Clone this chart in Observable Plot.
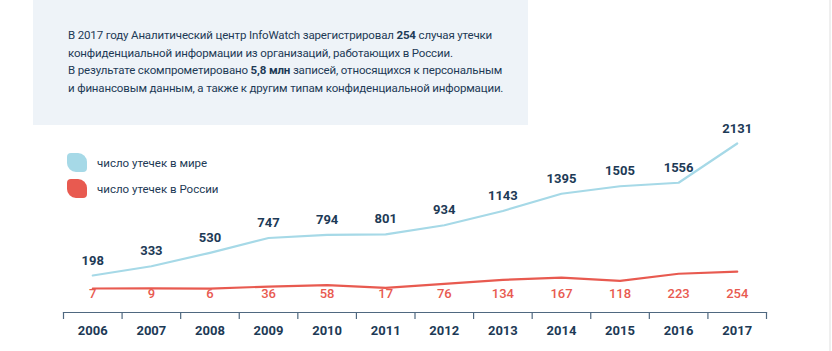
<!DOCTYPE html>
<html>
<head>
<meta charset="utf-8">
<script src="https://cdn.jsdelivr.net/npm/d3@7"></script>
<script src="https://cdn.jsdelivr.net/npm/@observablehq/plot@0.6"></script>
<style>
  html, body { margin: 0; padding: 0; background: #fff; }
  #wrap { position: relative; width: 832px; height: 351px; overflow: hidden; font-family: Roboto, "Noto Sans", sans-serif; }
  #chart { position: absolute; left: 0; top: 0; }
  #note { position: absolute; left: 33px; top: 0; width: 495px; height: 125px; background: #eef3f8;
          box-sizing: border-box; padding: 27px 0 0 35px; color: #1d3a56; font-size: 11.5px; line-height: 17.7px;
          letter-spacing: -0.15px; white-space: nowrap; }
  #note b { font-weight: 700; }
  .leg { position: absolute; left: 67px; height: 19px; display: flex; align-items: center; color: #1d3a56; font-size: 11.5px; white-space: nowrap; }
  .sw { width: 20px; height: 19px; border-radius: 4px 9px 4px 9px; margin-right: 10px; }
  #edge { position: absolute; left: 829px; top: 0; width: 2px; height: 351px; background: #efefef; }
</style>
</head>
<body>
<div id="wrap">
  <div id="chart"></div>
  <div id="note"></div>
  <div id="legend"></div>
  <div id="edge"></div>
</div>
<script>
const years = [2006, 2007, 2008, 2009, 2010, 2011, 2012, 2013, 2014, 2015, 2016, 2017];
const world = [198, 333, 530, 747, 794, 801, 934, 1143, 1395, 1505, 1556, 2131];
const russia = [7, 9, 6, 36, 58, 17, 76, 134, 167, 118, 223, 254];
const seriesNames = ["число утечек в мире", "число утечек в России"];
const seriesColors = ["#a6d9e7", "#e85a50"];
const noteLines = [
  "В 2017 году Аналитический центр InfoWatch зарегистрировал <b>254</b> случая утечки",
  "конфиденциальной информации из организаций, работающих в России.",
  "В результате скомпрометировано <b>5,8 млн</b> записей, относящихся к персональным",
  "и финансовым данным, а также к другим типам конфиденциальной информации."
];

const navy = "#1d3a56";
const axisColor = "#4f6880";

const rows = years.map((year, i) => ({year, world: world[i], russia: russia[i]}));
const bounds = [...years.map(y => y - 0.5), years[years.length - 1] + 0.5];

const chart = Plot.plot({
  width: 832,
  height: 351,
  marginLeft: 63,
  marginRight: 66,
  marginTop: 143,
  marginBottom: 39,
  style: {fontFamily: "Roboto, sans-serif", background: "transparent"},
  x: {type: "linear", domain: [bounds[0], bounds[bounds.length - 1]], axis: null},
  y: {domain: [0, d3.max(world)], insetBottom: 23.5, axis: null},
  marks: [
    Plot.frame({anchor: "bottom", stroke: axisColor, strokeWidth: 1.2}),
    Plot.axisX({ticks: bounds, tickSize: 7, tickFormat: () => "", label: null, stroke: axisColor, strokeWidth: 1.2}),
    Plot.axisX({ticks: years, tickSize: 0, tickPadding: 13, tickFormat: d => String(d), label: null,
                fill: navy, fontSize: 13, fontWeight: 700}),
    Plot.line(rows, {x: "year", y: "world", stroke: seriesColors[0], strokeWidth: 2.2}),
    Plot.line(rows, {x: "year", y: "russia", stroke: seriesColors[1], strokeWidth: 2.2}),
    Plot.text(rows, {x: "year", y: "world", text: d => String(d.world), dy: -15,
                     fill: navy, fontSize: 13, fontWeight: 700}),
    Plot.text(rows, {x: "year", text: d => String(d.russia), frameAnchor: "bottom", dy: -15,
                     fill: seriesColors[1], fontSize: 13, fontWeight: 500})
  ]
});
document.getElementById("chart").appendChild(chart);

document.getElementById("note").innerHTML = noteLines.join("<br>");

const legend = document.getElementById("legend");
seriesNames.forEach((name, i) => {
  const row = document.createElement("div");
  row.className = "leg";
  row.style.top = (153 + i * 26) + "px";
  const sw = document.createElement("div");
  sw.className = "sw";
  sw.style.background = seriesColors[i];
  const t = document.createElement("span");
  t.textContent = name;
  row.appendChild(sw);
  row.appendChild(t);
  legend.appendChild(row);
});
</script>
</body>
</html>
